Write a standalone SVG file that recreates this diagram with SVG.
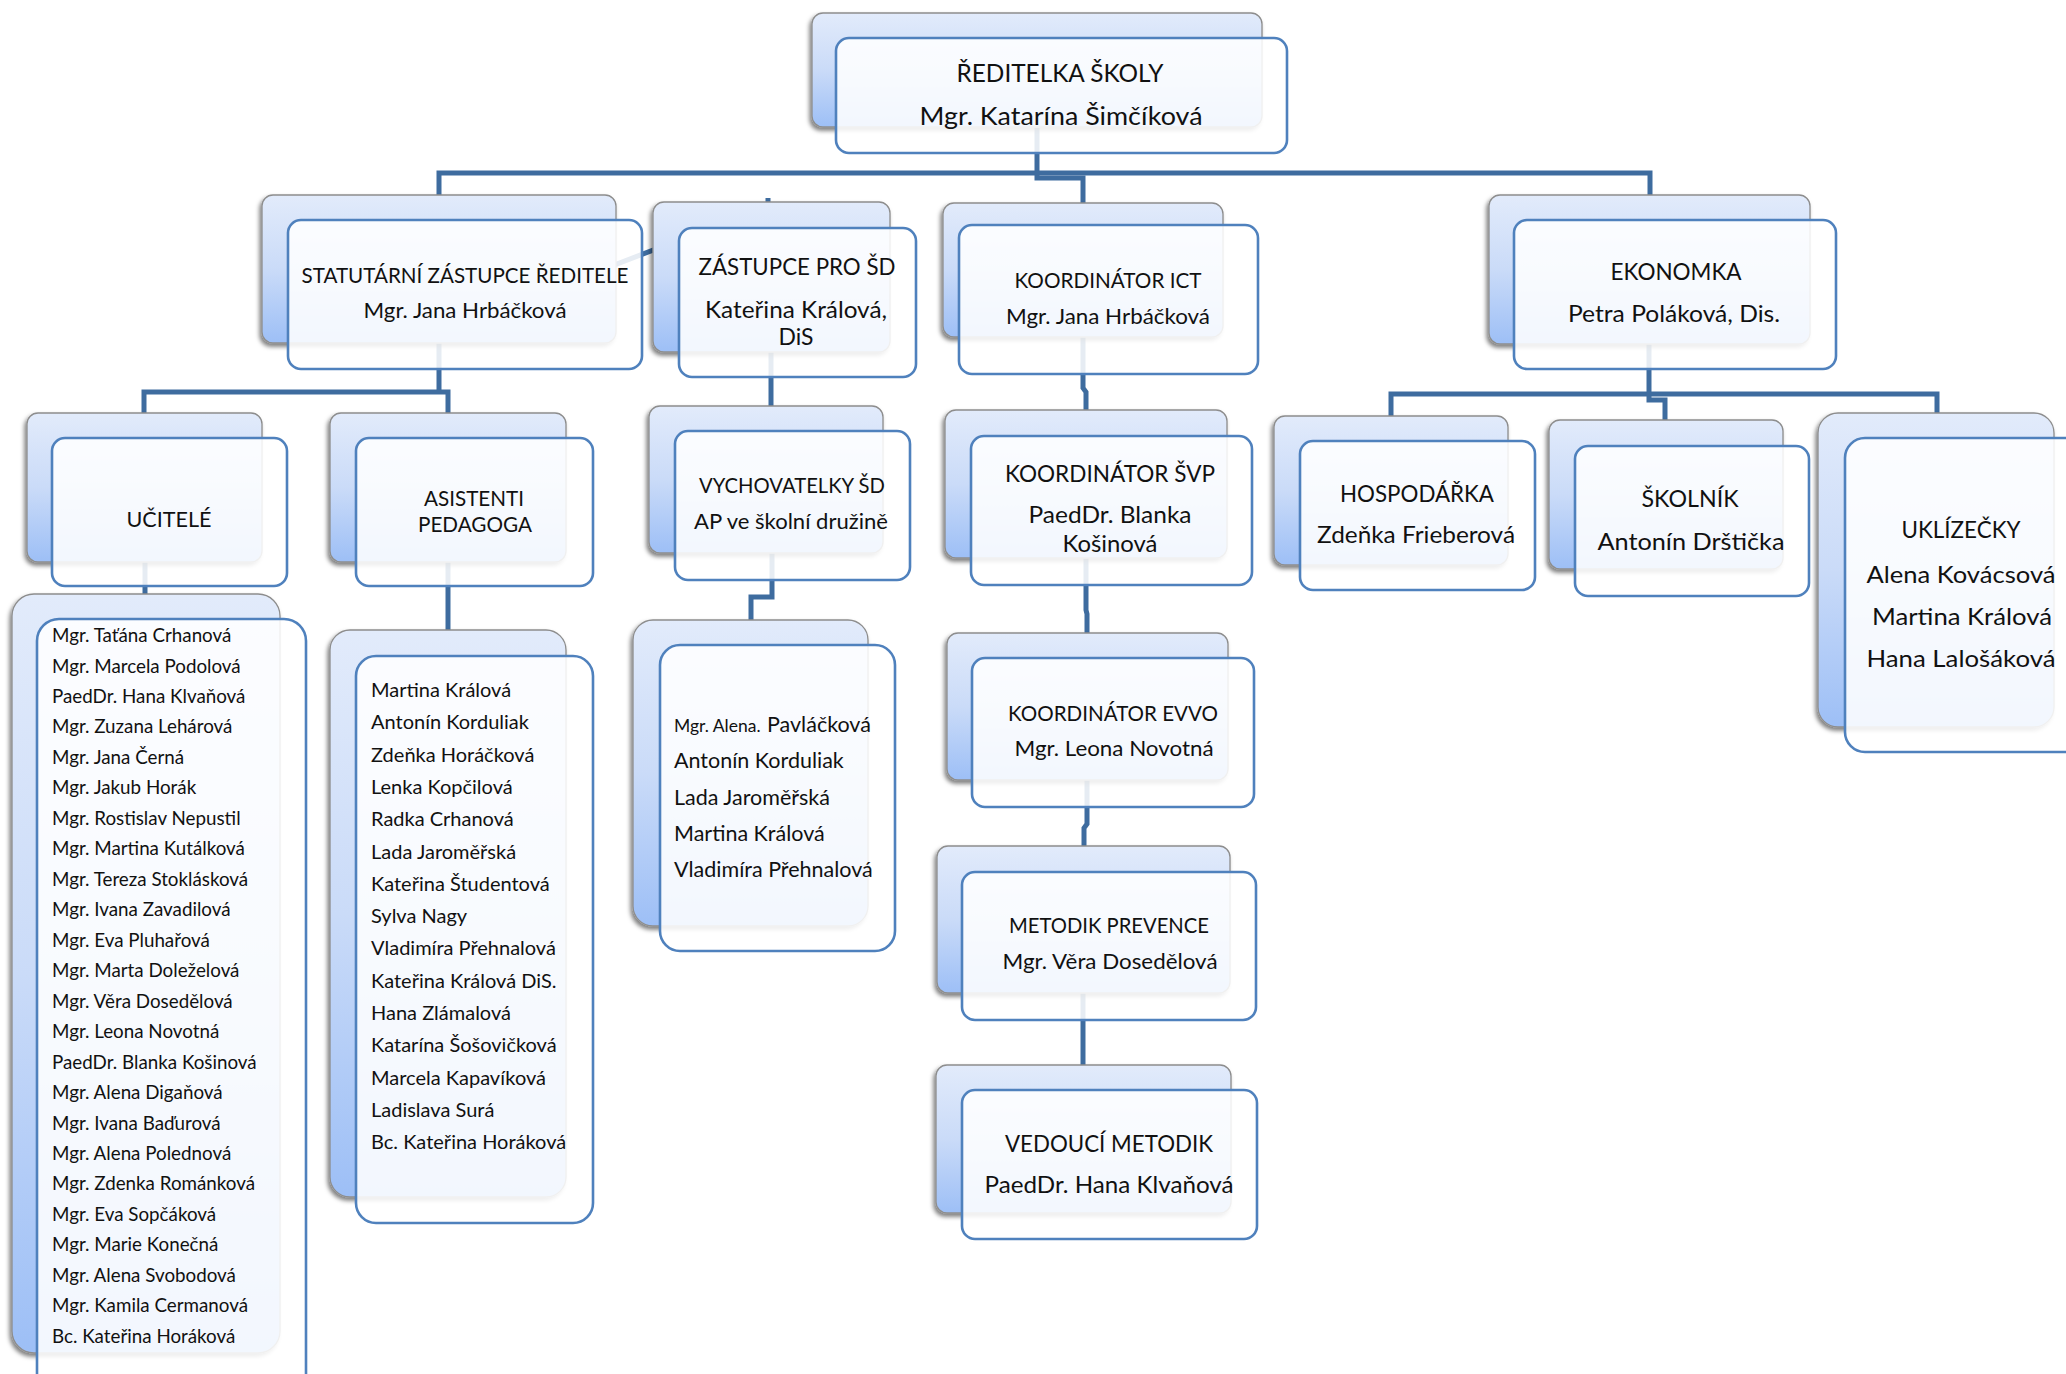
<svg xmlns="http://www.w3.org/2000/svg" width="2066" height="1374" viewBox="0 0 2066 1374">
<defs>
<linearGradient id="g" x1="0" y1="0" x2="0" y2="1">
<stop offset="0" stop-color="#E2EBFB"/>
<stop offset="0.5" stop-color="#CADBF8"/>
<stop offset="1" stop-color="#9DBFF6"/>
</linearGradient>
<filter id="sh" x="-10%" y="-10%" width="120%" height="125%">
<feDropShadow dx="-2" dy="3" stdDeviation="2" flood-color="#000" flood-opacity="0.5"/>
</filter>
<style>
.bk{fill:url(#g);stroke:#8d8d8d;stroke-width:1.3;filter:url(#sh)}
.fr{fill:#fff;fill-opacity:0.87;stroke:#4f81bd;stroke-width:2.6}
.t{font-family:Lato,"Liberation Sans",sans-serif;fill:#111;text-anchor:middle}
.l{font-family:Lato,"Liberation Sans",sans-serif;fill:#111}
.c{fill:none;stroke:#3e6c9f;stroke-width:5}
</style>
</defs>
<rect width="2066" height="1374" fill="#fff"/>
<g id="connectors">
<path class="c" d="M1037,128 V178 H1083 V203"/>
<path class="c" d="M439,195 V173 H1650 V195"/>
<path class="c" stroke-width="4" d="M445,330 L768,206 V198"/>
<path class="c" d="M144,413 V392 H448 V413 M439,343 V392"/>
<path class="c" d="M145,562 V597"/>
<path class="c" d="M448,562 V630"/>
<path class="c" d="M771,352 V406"/>
<path class="c" d="M772,553 V597 H751 V620"/>
<path class="c" d="M1083,337 V388 L1086,392 V410"/>
<path class="c" d="M1086,558 V610 L1087,614 V633"/>
<path class="c" d="M1087,780 V824 L1084,828 V846"/>
<path class="c" d="M1083,993 V1065"/>
<path class="c" d="M1649,344 V394"/>
<path class="c" d="M1391,416 V394 H1937 V413"/>
<path class="c" d="M1649,394 V400 H1665 V420"/>
</g>
<g id="reditelka">
<rect class="bk" x="812" y="13" width="450" height="114" rx="11"/>
<rect class="fr" x="836" y="38" width="451" height="115" rx="13"/>
<text class="t" font-size="24.5" x="1060" y="82" textLength="207" lengthAdjust="spacingAndGlyphs">ŘEDITELKA ŠKOLY</text>
<text class="t" font-size="24.5" x="1061" y="125" textLength="283" lengthAdjust="spacingAndGlyphs">Mgr. Katarína Šimčíková</text>
</g>
<g id="statutarni">
<rect class="bk" x="262" y="195" width="354" height="148" rx="11"/>
<rect class="fr" x="288" y="220" width="354" height="149" rx="13"/>
<text class="t" font-size="20.5" x="465" y="283" textLength="327" lengthAdjust="spacingAndGlyphs">STATUTÁRNÍ ZÁSTUPCE ŘEDITELE</text>
<text class="t" font-size="20.5" x="465" y="318" textLength="203" lengthAdjust="spacingAndGlyphs">Mgr. Jana Hrbáčková</text>
</g>
<g id="zastupce-sd">
<rect class="bk" x="653" y="202" width="237" height="150" rx="11"/>
<rect class="fr" x="679" y="228" width="237" height="149" rx="13"/>
<text class="t" font-size="22.5" x="797" y="275" textLength="197" lengthAdjust="spacingAndGlyphs">ZÁSTUPCE PRO ŠD</text>
<text class="t" font-size="22.5" x="796" y="318" textLength="182" lengthAdjust="spacingAndGlyphs">Kateřina Králová,</text>
<text class="t" font-size="22.5" x="796" y="345" textLength="35" lengthAdjust="spacingAndGlyphs">DiS</text>
</g>
<g id="koordinator-ict">
<rect class="bk" x="943" y="203" width="280" height="134" rx="11"/>
<rect class="fr" x="959" y="225" width="299" height="149" rx="13"/>
<text class="t" font-size="20.5" x="1108" y="288" textLength="187" lengthAdjust="spacingAndGlyphs">KOORDINÁTOR ICT</text>
<text class="t" font-size="20.5" x="1108" y="324" textLength="204" lengthAdjust="spacingAndGlyphs">Mgr. Jana Hrbáčková</text>
</g>
<g id="ekonomka">
<rect class="bk" x="1489" y="195" width="321" height="149" rx="11"/>
<rect class="fr" x="1514" y="220" width="322" height="149" rx="13"/>
<text class="t" font-size="22.5" x="1676" y="280" textLength="131" lengthAdjust="spacingAndGlyphs">EKONOMKA</text>
<text class="t" font-size="22.5" x="1674" y="322" textLength="212" lengthAdjust="spacingAndGlyphs">Petra Poláková, Dis.</text>
</g>
<g id="ucitele">
<rect class="bk" x="27" y="413" width="235" height="149" rx="11"/>
<rect class="fr" x="52" y="438" width="235" height="148" rx="13"/>
<text class="t" font-size="21.5" x="169" y="527" textLength="85" lengthAdjust="spacingAndGlyphs">UČITELÉ</text>
</g>
<g id="asistenti">
<rect class="bk" x="330" y="413" width="236" height="149" rx="11"/>
<rect class="fr" x="356" y="438" width="237" height="148" rx="13"/>
<text class="t" font-size="20.5" x="474" y="506" textLength="100" lengthAdjust="spacingAndGlyphs">ASISTENTI</text>
<text class="t" font-size="20.5" x="475" y="532" textLength="114" lengthAdjust="spacingAndGlyphs">PEDAGOGA</text>
</g>
<g id="vychovatelky">
<rect class="bk" x="649" y="406" width="234" height="147" rx="11"/>
<rect class="fr" x="675" y="431" width="235" height="149" rx="13"/>
<text class="t" font-size="20.5" x="792" y="493" textLength="186" lengthAdjust="spacingAndGlyphs">VYCHOVATELKY ŠD</text>
<text class="t" font-size="20.5" x="791" y="529" textLength="194" lengthAdjust="spacingAndGlyphs">AP ve školní družině</text>
</g>
<g id="koordinator-svp">
<rect class="bk" x="945" y="410" width="282" height="148" rx="11"/>
<rect class="fr" x="971" y="436" width="281" height="149" rx="13"/>
<text class="t" font-size="22.5" x="1110" y="482" textLength="210" lengthAdjust="spacingAndGlyphs">KOORDINÁTOR ŠVP</text>
<text class="t" font-size="22.5" x="1110" y="523" textLength="163" lengthAdjust="spacingAndGlyphs">PaedDr. Blanka</text>
<text class="t" font-size="22.5" x="1110" y="552" textLength="95" lengthAdjust="spacingAndGlyphs">Košinová</text>
</g>
<g id="hospodarka">
<rect class="bk" x="1274" y="416" width="234" height="149" rx="11"/>
<rect class="fr" x="1300" y="441" width="235" height="149" rx="13"/>
<text class="t" font-size="22.5" x="1417" y="502" textLength="154" lengthAdjust="spacingAndGlyphs">HOSPODÁŘKA</text>
<text class="t" font-size="22.5" x="1416" y="543" textLength="198" lengthAdjust="spacingAndGlyphs">Zdeňka Frieberová</text>
</g>
<g id="skolnik">
<rect class="bk" x="1549" y="420" width="234" height="149" rx="11"/>
<rect class="fr" x="1575" y="446" width="234" height="150" rx="13"/>
<text class="t" font-size="23.5" x="1690" y="507" textLength="97" lengthAdjust="spacingAndGlyphs">ŠKOLNÍK</text>
<text class="t" font-size="23.5" x="1691" y="550" textLength="187" lengthAdjust="spacingAndGlyphs">Antonín Drštička</text>
</g>
<g id="uklizecky">
<rect class="bk" x="1818" y="413" width="236" height="314" rx="20"/>
<rect class="fr" x="1845" y="438" width="240" height="314" rx="20"/>
<text class="t" font-size="23" x="1961" y="538" textLength="119" lengthAdjust="spacingAndGlyphs">UKLÍZEČKY</text>
<text class="t" font-size="23" x="1961" y="583" textLength="189" lengthAdjust="spacingAndGlyphs">Alena Kovácsová</text>
<text class="t" font-size="23" x="1962" y="625" textLength="180" lengthAdjust="spacingAndGlyphs">Martina Králová</text>
<text class="t" font-size="23" x="1961" y="667" textLength="189" lengthAdjust="spacingAndGlyphs">Hana Lalošáková</text>
</g>
<g id="seznam-ucitelu">
<rect class="bk" x="12" y="594" width="268" height="759" rx="22"/>
<rect class="fr" x="37" y="619" width="269" height="780" rx="22"/>
<text class="l" font-size="18.8">
<tspan x="52" y="642">Mgr. Taťána Crhanová</tspan>
<tspan x="52" y="672.5">Mgr. Marcela Podolová</tspan>
<tspan x="52" y="703">PaedDr. Hana Klvaňová</tspan>
<tspan x="52" y="733.4">Mgr. Zuzana Lehárová</tspan>
<tspan x="52" y="763.9">Mgr. Jana Černá</tspan>
<tspan x="52" y="794.4">Mgr. Jakub Horák</tspan>
<tspan x="52" y="824.8">Mgr. Rostislav Nepustil</tspan>
<tspan x="52" y="855.3">Mgr. Martina Kutálková</tspan>
<tspan x="52" y="885.8">Mgr. Tereza Stoklásková</tspan>
<tspan x="52" y="916.2">Mgr. Ivana Zavadilová</tspan>
<tspan x="52" y="946.7">Mgr. Eva Pluhařová</tspan>
<tspan x="52" y="977.2">Mgr. Marta Doleželová</tspan>
<tspan x="52" y="1007.6">Mgr. Věra Dosedělová</tspan>
<tspan x="52" y="1038.1">Mgr. Leona Novotná</tspan>
<tspan x="52" y="1068.6">PaedDr. Blanka Košinová</tspan>
<tspan x="52" y="1099">Mgr. Alena Digaňová</tspan>
<tspan x="52" y="1129.5">Mgr. Ivana Baďurová</tspan>
<tspan x="52" y="1160">Mgr. Alena Polednová</tspan>
<tspan x="52" y="1190.4">Mgr. Zdenka Románková</tspan>
<tspan x="52" y="1220.9">Mgr. Eva Sopčáková</tspan>
<tspan x="52" y="1251.4">Mgr. Marie Konečná</tspan>
<tspan x="52" y="1281.8">Mgr. Alena Svobodová</tspan>
<tspan x="52" y="1312.3">Mgr. Kamila Cermanová</tspan>
<tspan x="52" y="1342.8">Bc. Kateřina Horáková</tspan>
</text>
</g>
<g id="seznam-asistentu">
<rect class="bk" x="330" y="630" width="236" height="567" rx="20"/>
<rect class="fr" x="356" y="656" width="237" height="567" rx="20"/>
<text class="l" font-size="20">
<tspan x="371" y="697">Martina Králová</tspan>
<tspan x="371" y="729.3">Antonín Korduliak</tspan>
<tspan x="371" y="761.6">Zdeňka Horáčková</tspan>
<tspan x="371" y="793.9">Lenka Kopčilová</tspan>
<tspan x="371" y="826.2">Radka Crhanová</tspan>
<tspan x="371" y="858.5">Lada Jaroměřská</tspan>
<tspan x="371" y="890.8">Kateřina Študentová</tspan>
<tspan x="371" y="923.1">Sylva Nagy</tspan>
<tspan x="371" y="955.4">Vladimíra Přehnalová</tspan>
<tspan x="371" y="987.7">Kateřina Králová DiS.</tspan>
<tspan x="371" y="1020">Hana Zlámalová</tspan>
<tspan x="371" y="1052.3">Katarína Šošovičková</tspan>
<tspan x="371" y="1084.6">Marcela Kapavíková</tspan>
<tspan x="371" y="1116.9">Ladislava Surá</tspan>
<tspan x="371" y="1149.2">Bc. Kateřina Horáková</tspan>
</text>
</g>
<g id="seznam-vychovatelek">
<rect class="bk" x="633" y="620" width="235" height="306" rx="20"/>
<rect class="fr" x="660" y="645" width="235" height="306" rx="20"/>
<text class="l" font-size="21.5">
<tspan x="674" y="732" font-size="17.5">Mgr. Alena.</tspan><tspan x="767" y="732">Pavláčková</tspan>
<tspan x="674" y="768">Antonín Korduliak</tspan>
<tspan x="674" y="805">Lada Jaroměřská</tspan>
<tspan x="674" y="841">Martina Králová</tspan>
<tspan x="674" y="877">Vladimíra Přehnalová</tspan>
</text>
</g>
<g id="koordinator-evvo">
<rect class="bk" x="947" y="633" width="281" height="147" rx="11"/>
<rect class="fr" x="972" y="658" width="282" height="149" rx="13"/>
<text class="t" font-size="20.5" x="1113" y="721" textLength="210" lengthAdjust="spacingAndGlyphs">KOORDINÁTOR EVVO</text>
<text class="t" font-size="20.5" x="1114" y="756" textLength="199" lengthAdjust="spacingAndGlyphs">Mgr. Leona Novotná</text>
</g>
<g id="metodik-prevence">
<rect class="bk" x="937" y="846" width="293" height="147" rx="11"/>
<rect class="fr" x="962" y="872" width="294" height="148" rx="13"/>
<text class="t" font-size="20.5" x="1109" y="933" textLength="200" lengthAdjust="spacingAndGlyphs">METODIK PREVENCE</text>
<text class="t" font-size="20.5" x="1110" y="969" textLength="215" lengthAdjust="spacingAndGlyphs">Mgr. Věra Dosedělová</text>
</g>
<g id="vedouci-metodik">
<rect class="bk" x="936" y="1065" width="295" height="148" rx="11"/>
<rect class="fr" x="962" y="1090" width="295" height="149" rx="13"/>
<text class="t" font-size="22.5" x="1109" y="1152" textLength="208" lengthAdjust="spacingAndGlyphs">VEDOUCÍ METODIK</text>
<text class="t" font-size="22.5" x="1109" y="1193" textLength="249" lengthAdjust="spacingAndGlyphs">PaedDr. Hana Klvaňová</text>
</g>
</svg>
